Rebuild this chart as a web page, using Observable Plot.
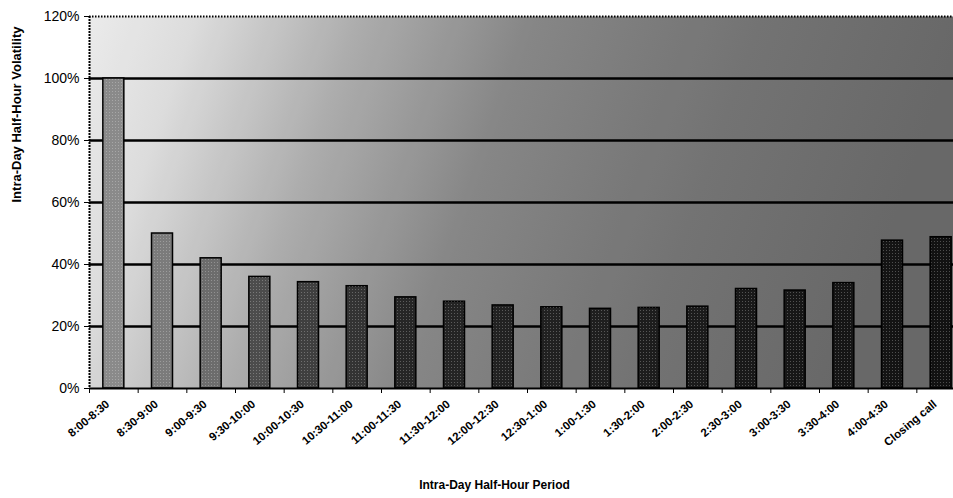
<!DOCTYPE html>
<html><head><meta charset="utf-8">
<script src="https://cdn.jsdelivr.net/npm/d3@7"></script>
<script src="https://cdn.jsdelivr.net/npm/@observablehq/plot@0.6"></script>
<style>
html,body{margin:0;padding:0;background:#fff;overflow:hidden;}
#chart{width:953px;height:498px;overflow:hidden;position:relative;}
</style></head><body><div id="chart"></div>
<script>
const periods = ["8:00-8:30","8:30-9:00","9:00-9:30","9:30-10:00","10:00-10:30","10:30-11:00","11:00-11:30","11:30-12:00","12:00-12:30","12:30-1:00","1:00-1:30","1:30-2:00","2:00-2:30","2:30-3:00","3:00-3:30","3:30-4:00","4:00-4:30","Closing call"];
const volatility = [100,50,42,36,34.3,33,29.4,28,26.8,26.2,25.7,26,26.4,32.1,31.6,34,47.7,48.8];
const yTicks = [0,20,40,60,80,100,120];
const yTitle = "Intra-Day Half-Hour Volatility";
const xTitle = "Intra-Day Half-Hour Period";

const data = periods.map((p,i)=>({period:p, value:volatility[i], idx:i}));

const W=953, H=498, mL=89, mR=-12, mT=16, mB=110;
const step = (W - mL - mR) / periods.length;
const inset = (step - 21) / 2;
const shade = d3.scaleLinear().domain([0,2,3,6,17]).range(["#8a8a8a","#6c6c6c","#4c4c4c","#262626","#121212"]);

const plot = Plot.plot({
  width: W, height: H, marginLeft: mL, marginRight: mR, marginTop: mT, marginBottom: mB,
  style: {fontFamily: "'Liberation Sans', Arial, sans-serif", background: "transparent", overflow: "hidden", color: "#000"},
  x: {domain: periods, padding: 0, round: false},
  y: {domain: [0,120]},
  marks: [
    Plot.frame({fill: "url(#bgGrad)", stroke: null}),
    Plot.frame({fill: "url(#bgDither)", stroke: null}),
    Plot.ruleY(yTicks.filter(t => t > 0 && t < 120), {stroke: "#000", strokeWidth: 2.5}),
    Plot.ruleY([120], {stroke: "#000", strokeWidth: 2, strokeDasharray: "1.5,1.5"}),
    Plot.barY(data, {x: "period", y: "value", fill: d => shade(d.idx), stroke: "#000", strokeWidth: 1.5, insetLeft: inset, insetRight: inset}),
    Plot.barY(data, {x: "period", y: "value", fill: "url(#barDither)", insetLeft: inset + 1, insetRight: inset + 1}),
    Plot.ruleY([0], {stroke: "#000", strokeWidth: 2}),
    Plot.ruleX([periods[0]], {dx: -step/2, stroke: "#000", strokeWidth: 2, strokeDasharray: "2,1"}),
    Plot.axisY({ticks: yTicks, tickFormat: d => d + "%", tickSize: 5, tickPadding: 5, fontSize: 14, label: null, stroke: "#000"}),
    Plot.axisX({ticks: periods, tickSize: 5, tickFormat: () => "", dx: -step/2, label: null, stroke: "#000"}),
    Plot.axisX({tickSize: 0, tickRotate: -40, tickPadding: 14, fontSize: 11.5, fontWeight: "bold", label: null, dx: -6}),
    Plot.text([yTitle], {frameAnchor: "left", dx: -73, rotate: -90, fontWeight: "bold", fontSize: 13}),
    Plot.text([xTitle], {frameAnchor: "bottom", dx: -33, dy: 100, fontWeight: "bold", fontSize: 12})
  ]
});

const svg = d3.select(plot);
const defs = svg.insert("defs", ":first-child");
const g = defs.append("linearGradient").attr("id","bgGrad").attr("x1",0).attr("y1",0).attr("x2",1).attr("y2",0.15);
[[0,"#f2f2f2"],[0.12,"#e2e2e2"],[0.3,"#b0b0b0"],[0.5,"#868686"],[0.75,"#727272"],[1,"#666666"]].forEach(([o,c]) =>
  g.append("stop").attr("offset", o).attr("stop-color", c));
const p = defs.append("pattern").attr("id","bgDither").attr("patternUnits","userSpaceOnUse").attr("width",2).attr("height",2);
p.append("rect").attr("x",0).attr("y",0).attr("width",1).attr("height",1).attr("fill","#000").attr("fill-opacity",0.12);
p.append("rect").attr("x",1).attr("y",1).attr("width",1).attr("height",1).attr("fill","#fff").attr("fill-opacity",0.12);
const b = defs.append("pattern").attr("id","barDither").attr("patternUnits","userSpaceOnUse").attr("width",3).attr("height",3);
b.append("rect").attr("x",1).attr("y",1).attr("width",1).attr("height",1).attr("fill","#fff").attr("fill-opacity",0.25);

document.getElementById("chart").appendChild(plot);
</script>
</body></html>
